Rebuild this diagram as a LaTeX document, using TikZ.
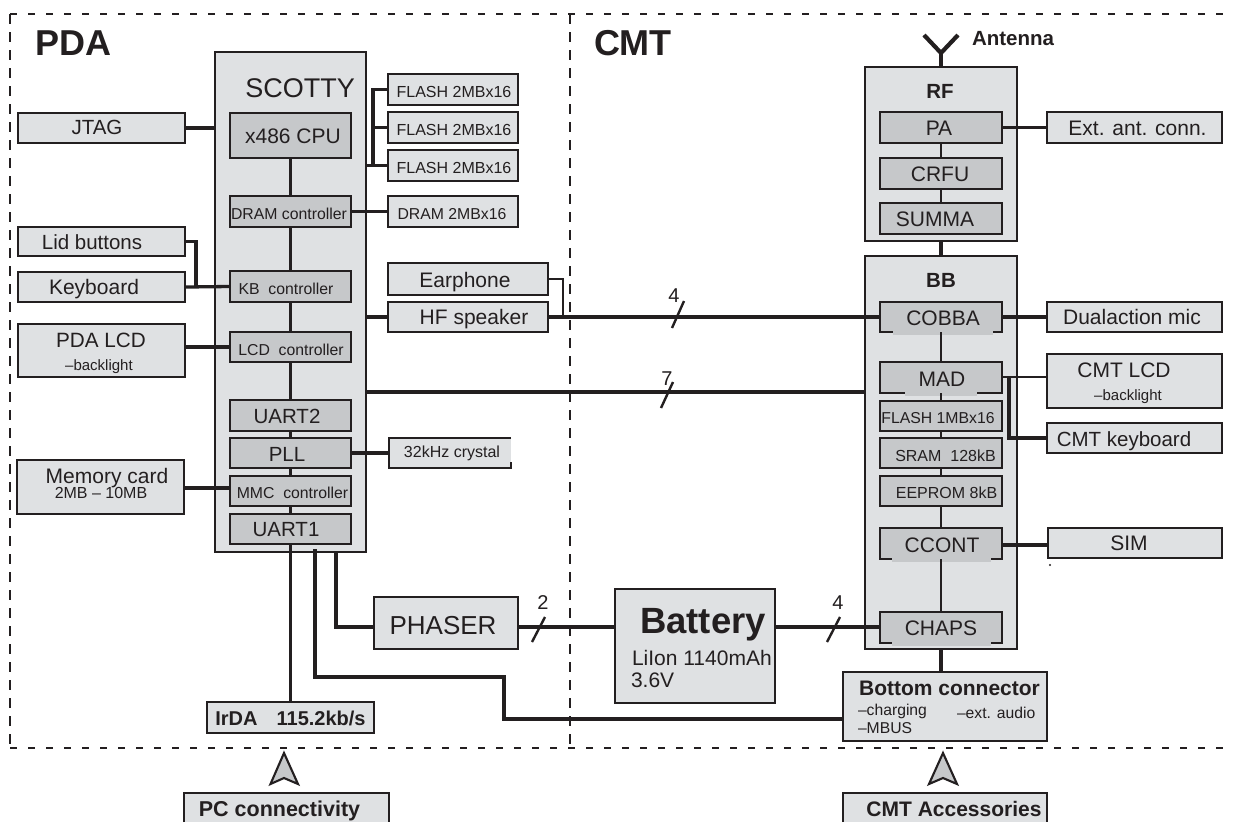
\documentclass[tikz,border=0pt]{standalone}
\usepackage{fontspec}
\usetikzlibrary{calc}
\setmainfont{Liberation Sans}
\definecolor{ink}{HTML}{231F20}
\definecolor{lightbox}{HTML}{DFE1E3}
\definecolor{midbox}{HTML}{C6C8CA}
\newcommand\fs[1]{\fontsize{#1}{#1}\selectfont}
\newcommand\fb[1]{\fontsize{#1}{#1}\selectfont\bfseries}
% name, style, x1,y1,x2,y2, text centre x, text baseline y, text
\newcommand\bx[9]{%
  \pgfmathsetmacro\bxw{#5-#3}\pgfmathsetmacro\bxh{#6-#4}%
  \pgfmathsetmacro\bxcx{(#3+#5)/2}\pgfmathsetmacro\bxcy{(#4+#6)/2}%
  \pgfmathsetmacro\bxdx{2*(#7-\bxcx)}\pgfmathsetmacro\bxdy{\bxcy-#8}%
  \node[#2,minimum width=\bxw pt,minimum height=\bxh pt] (#1) at (\bxcx,\bxcy)
    {\raisebox{\bxdy pt}[0pt][0pt]{\makebox[0pt][c]{\hspace*{\bxdx pt}#9}}};}
\tikzset{
  base/.style={inner sep=0pt,outer sep=0pt,text=ink,line width=2.1pt,draw=ink},
  outerbox/.style={base,fill=lightbox},
  innerbox/.style={base,fill=midbox},
  openbox/.style={base,fill=lightbox,draw=none},
  txt/.style={inner sep=0pt,outer sep=0pt,text=ink,anchor=base},
  txtl/.style={inner sep=0pt,outer sep=0pt,text=ink,anchor=base west},
  link/.style={draw=ink,line width=3.3pt},
  thin link/.style={draw=ink,line width=2.4pt},
  heavy/.style={draw=ink,line width=4.6pt},
  frameh/.style={draw=ink,line width=2.6pt,dash pattern=on 7pt off 11pt},
  framev/.style={draw=ink,line width=2.6pt,dash pattern=on 10pt off 8pt},
  slash/.style={draw=ink,line width=2.4pt},
  edge line/.style={draw=ink,line width=2.1pt},
  uparrow/.style={draw=ink,fill=midbox,line width=2.1pt,line join=miter},
}
\begin{document}
\begin{tikzpicture}[x=1pt,y=-1pt]
\useasboundingbox (0,0) rectangle (1234,822);
\fill[white] (0,0) rectangle (1234,822);
% frame
\coordinate (ftl) at (10,14); \coordinate (ftr) at (1234,14);
\coordinate (fbl) at (10,748); \coordinate (fbr) at (1234,748);
\coordinate (fmt) at (570,14); \coordinate (fmb) at (570,748);
\draw[frameh] (ftl) -- (ftr); \draw[frameh] (fbl) -- (fbr);
\draw[framev] (ftl) -- (fbl); \draw[framev] (fmt) -- (fmb);
\node[txtl] (pdatitle) at (35,55) {\fb{36}PDA};
\node[txtl] (cmttitle) at (594,55) {\fb{36}CMT};
% big containers
\bx{scotty}{outerbox}{215}{52}{366}{552}{300}{97}{\fs{27}SCOTTY}
\bx{rf}{outerbox}{865}{67}{1017}{241}{940}{98}{\fb{20.5}RF}
\bx{bb}{outerbox}{865}{256}{1017}{649}{941}{287}{\fb{20.5}BB}
% SCOTTY inner
\bx{cpu}{innerbox}{230}{113}{351}{158}{293}{143}{\fs{21}x486 CPU}
\bx{dramc}{innerbox}{230}{196}{351}{227}{289}{219}{\fs{15.8}DRAM controller}
\bx{kbc}{innerbox}{230}{271}{351}{302}{286}{294}{\fs{15.8}KB\ \ controller}
\bx{lcdc}{innerbox}{230}{332}{351}{362}{291}{355}{\fs{15.8}LCD\ \ controller}
\bx{uarttwo}{innerbox}{230}{400}{351}{431}{287}{423}{\fs{20.5}UART2}
\bx{pll}{innerbox}{230}{438}{351}{468}{287}{461}{\fs{20.5}PLL}
\bx{mmc}{innerbox}{230}{476}{351}{506}{292.5}{498}{\fs{15.8}MMC\ \ controller}
\bx{uartone}{innerbox}{230}{514}{351}{544}{286}{536}{\fs{20.5}UART1}
% RF inner
\bx{pa}{innerbox}{880}{112}{1002}{143}{939}{135}{\fs{21}PA}
\bx{crfu}{innerbox}{880}{158}{1002}{189}{940}{181}{\fs{21}CRFU}
\bx{summa}{innerbox}{880}{203}{1002}{234}{935}{226}{\fs{21}SUMMA}
% BB inner
\bx{cobba}{innerbox}{880}{302}{1002}{332}{943}{325}{\fs{21}COBBA}
\bx{mad}{innerbox}{880}{362}{1002}{393}{942}{386}{\fs{21}MAD}
\bx{flashb}{innerbox}{880}{401}{1002}{431}{938}{423}{\fs{15.8}FLASH 1MBx16}
\bx{sram}{innerbox}{880}{438}{1002}{468}{945.5}{461}{\fs{16}SRAM\ \ 128kB}
\bx{eeprom}{innerbox}{880}{476}{1002}{506}{946.5}{498}{\fs{16}EEPROM 8kB}
\bx{ccont}{innerbox}{880}{528}{1002}{559}{942}{552}{\fs{21}CCONT}
\bx{chaps}{innerbox}{880}{612}{1002}{643}{941}{635}{\fs{21}CHAPS}
% broken lower edges of some inner boxes
\fill[midbox] (893,330) rectangle (993,334.5);
\fill[midbox] (905,391) rectangle (977,395.5);
\fill[midbox] (892,557) rectangle (991,561.5);
\fill[midbox] (892,641) rectangle (991,645.5);
% left column
\bx{jtag}{outerbox}{18}{113}{185}{143}{97}{134}{\fs{20.5}JTAG}
\bx{lid}{outerbox}{18}{227}{185}{256}{92}{249}{\fs{20.5}Lid buttons}
\bx{keyb}{outerbox}{18}{272}{185}{302}{94}{294}{\fs{21}Keyboard}
\bx{pdalcd}{outerbox}{18}{324}{185}{377}{101}{347}{\fs{20.7}PDA LCD}
\node[txt] (pdalcdsub) at (99,370) {\fs{15}–backlight};
\bx{memcard}{outerbox}{17}{460}{184}{514}{107}{483}{\fs{21}Memory card}
\node[txt] (memcardsub) at (101,498) {\fs{16}2MB – 10MB};
% middle column
\bx{flasha}{outerbox}{388}{74}{518}{105}{454}{97}{\fs{16}FLASH 2MBx16}
\bx{flashc}{outerbox}{388}{112}{518}{143}{454}{135}{\fs{16}FLASH 2MBx16}
\bx{flashd}{outerbox}{388}{150}{518}{181}{454}{173}{\fs{16}FLASH 2MBx16}
\bx{dram}{outerbox}{388}{196}{518}{227}{452}{219}{\fs{15.8}DRAM 2MBx16}
\bx{earphone}{outerbox}{388}{263}{548}{295}{465}{287}{\fs{21}Earphone}
\bx{hf}{outerbox}{388}{302}{548}{332}{474}{324}{\fs{21}HF speaker}
\bx{crystal}{openbox}{389}{438}{511}{468}{452}{457}{\fs{16}32kHz crystal}
\draw[edge line] (crystal.north east) -- (crystal.north west) -- (crystal.south west) -- (crystal.south east) -- ++(0,-6);
\bx{phaser}{outerbox}{374}{597}{518}{649}{443}{634}{\fs{26}PHASER}
\bx{irda}{outerbox}{207}{702}{374}{733}{290.5}{725}{\fb{20}IrDA\hspace{19pt}115.2kb/s}
\bx{battery}{outerbox}{615}{589}{775}{703}{703}{633}{\fb{36.5}Battery}
\node[txtl] (batsuba) at (632,665) {\fs{21}LiIon 1140mAh};
\node[txtl] (batsubb) at (631,687) {\fs{21}3.6V};
% right column
\bx{extant}{outerbox}{1047}{112}{1222}{143}{1137.5}{135}{\fs{21}Ext. ant. conn.}
\bx{dual}{outerbox}{1047}{302}{1222}{332}{1132}{324}{\fs{21}Dualaction mic}
\bx{cmtlcd}{outerbox}{1047}{354}{1222}{408}{1124}{377}{\fs{21}CMT LCD}
\node[txt] (cmtlcdsub) at (1128,400) {\fs{15}–backlight};
\bx{cmtkey}{outerbox}{1047}{423}{1222}{453}{1124}{446}{\fs{20.5}CMT keyboard}
\bx{sim}{outerbox}{1048}{528}{1222}{558}{1129}{550}{\fs{21}SIM}
\fill[ink] (1050,565) circle (1.2pt);
\bx{bottom}{outerbox}{843}{672}{1047}{741}{949.5}{695}{\fb{21}Bottom connector}
\node[txtl] (charging) at (858,715) {\fs{15.7}–charging};
\node[txtl] (extaudio) at (957,718) {\fs{15.7}–ext. audio};
\node[txtl] (mbus) at (858,733) {\fs{15.7}–MBUS};
% bottom boxes, cut off by the page edge
\bx{pcconn}{openbox}{184}{793}{389}{822}{279.5}{816}{\fb{21.5}PC connectivity}
\draw[edge line] (pcconn.south west) -- (pcconn.north west) -- (pcconn.north east) -- (pcconn.south east);
\bx{cmtacc}{openbox}{843}{793}{1047}{822}{954}{816}{\fb{21}CMT Accessories}
\draw[edge line] (cmtacc.south west) -- (cmtacc.north west) -- (cmtacc.north east) -- (cmtacc.south east);
\node[txtl] (antlabel) at (972,45) {\fb{20.5}Antenna};
% arrows
\coordinate (pctip) at (284,753);
\coordinate (cmttip) at (943,753);
\draw[uparrow] (pctip) -- ++(-13.5,31) -- ++(13.5,-6) -- ++(14,6) -- cycle;
\draw[uparrow] (cmttip) -- ++(-14,31) -- ++(14,-6) -- ++(14,6) -- cycle;
% antenna
\coordinate (antfork) at (941,53);
\coordinate (antl) at (924,35);
\coordinate (antr) at (958,35);
\draw[draw=ink,line width=4.2pt,line join=miter] (antl) -- (antfork) -- (antr);
\draw[link,line width=3.8pt] (antfork) -- (rf.north -| antfork);
% internal chains
\draw[thin link] (cpu) -- (dramc); \draw[thin link] (dramc) -- (kbc);
\draw[thin link] (kbc) -- (lcdc); \draw[thin link] (lcdc) -- (uarttwo);
\draw[thin link] (uarttwo) -- (pll); \draw[thin link] (pll) -- (mmc);
\draw[thin link] (mmc) -- (uartone);
\draw[thin link] (pa) -- (crfu); \draw[thin link] (crfu) -- (summa);
\draw[thin link] (cobba.south) -- (mad.north); \draw[thin link] (mad.south) -- (flashb.north);
\draw[thin link] (flashb) -- (sram); \draw[thin link] (sram) -- (eeprom);
\draw[thin link] (eeprom) -- (ccont); \draw[thin link] (ccont.south) -- (chaps.north);
\draw[link,line width=3.8pt] (rf.south) -- (bb.north);
\draw[link,line width=3.8pt] (bb.south) -- (bottom.north -| bb.south);
% left side
\draw[link] (jtag.east) -- (jtag.east -| scotty.west);
\coordinate (lidbus) at (196,241.5);
\coordinate (keybus) at (196,286.5);
\draw[link] (lid.east) -- (lidbus) -- (keybus);
\draw[link] (keyb.east) -- (kbc.west);
\draw[link,line width=3.6pt] (pdalcd.east |- lcdc.west) -- (lcdc.west);
\draw[heavy] ($(memcard.east |- mmc.west)+(0,-3)$) -- ($(mmc.west)+(0,-3)$);
% flash bus
\coordinate (flashtop) at (373,89.5);
\coordinate (flashmid) at (373,127.5);
\coordinate (flashlow) at (373,165.5);
\draw[link] (flasha.west) -- (flashtop) -- (flashlow);
\draw[link] (flashc.west) -- (flashmid);
\draw[link] (scotty.east |- flashlow) -- (flashd.west);
\draw[link] (dramc.east) -- (dram.west);
\draw[link] (scotty.east |- hf.west) -- (hf.west);
\draw[heavy,line width=3.8pt] (pll.east) -- (crystal.west);
% speech lines
\coordinate (earturn) at (563,279);
\coordinate (earjoin) at (563,317);
\draw[link,line width=2.8pt] (earphone.east) -- (earturn) -- (earjoin);
\draw[link] (hf.east) -- (hf.east -| cobba.west);
\coordinate (mcubus) at (366,392);
\draw[link] (mcubus) -- (mcubus -| bb.west);
% UART1 lines
\draw[link] (uartone.south) -- (irda.north);
\coordinate (mbusa) at (315,549);
\coordinate (mbusb) at (315,677);
\coordinate (mbusc) at (504,677);
\coordinate (mbusd) at (504,719);
\draw[link,line join=miter] (mbusa) -- (mbusb) -- (mbusc) -- (mbusd) -- (mbusd -| bottom.west);
\coordinate (phsa) at (336,552);
\coordinate (phsb) at (336,627);
\draw[link] (phsa) -- (phsb) -- (phsb -| phaser.west);
% power lines
\draw[link] (phsb -| phaser.east) -- (phsb -| battery.west);
\draw[link] (phsb -| battery.east) -- (phsb -| chaps.west);
% right side links
\draw[link] (pa.east) -- (extant.west);
\draw[link] (cobba.east) -- (dual.west);
\coordinate (madj) at (1009,377);
\coordinate (madk) at (1009,438);
\draw[link,line width=2.8pt] (madj -| mad.east) -- (madj -| cmtlcd.west);
\draw[heavy,line width=3.8pt] (madj) -- (madk) -- (madk -| cmtkey.west);
\draw[heavy] ($(ccont.east |- sim.west)+(0,2)$) -- ($(sim.west)+(0,2)$);
% bus slashes and counts
\coordinate (sa1) at (672,328); \coordinate (sa2) at (684,301);
\coordinate (sb1) at (661,408); \coordinate (sb2) at (673,382);
\coordinate (sc1) at (532,642); \coordinate (sc2) at (545,617);
\coordinate (sd1) at (827,642); \coordinate (sd2) at (840,617);
\draw[slash] (sa1) -- (sa2); \draw[slash] (sb1) -- (sb2);
\draw[slash] (sc1) -- (sc2); \draw[slash] (sd1) -- (sd2);
\node[txt] (na) at (674,302) {\fs{20}4};
\node[txt] (nb) at (667,385) {\fs{20}7};
\node[txt] (nc) at (543,609) {\fs{20}2};
\node[txt] (nd) at (838,609) {\fs{20}4};
\end{tikzpicture}
\end{document}
